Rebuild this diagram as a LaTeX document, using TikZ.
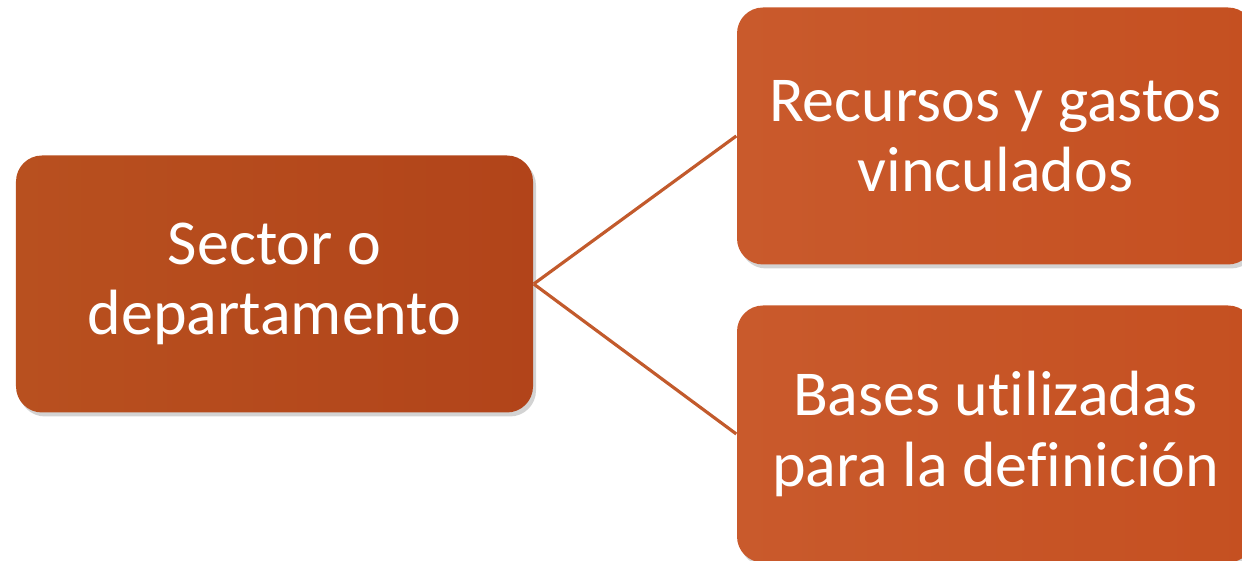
\documentclass[tikz,border=0pt]{standalone}
\usepackage{fontspec}
\setmainfont[Ligatures=NoCommon]{Carlito}
\usetikzlibrary{shadows}

\definecolor{sectorFill}{HTML}{B2441A}
\definecolor{sectorLight}{HTML}{B8501F}
\definecolor{itemFill}{HTML}{C55021}
\definecolor{itemLight}{HTML}{C95A2C}
\definecolor{linkColor}{HTML}{C25A2C}

\tikzset{
  box/.style={rounded corners=0.26cm, minimum width=5.17cm, minimum height=2.57cm,
    inner sep=0pt, align=center, text=white,
    font=\fontsize{18.2}{20}\selectfont,
    drop shadow={shadow xshift=0.03cm, shadow yshift=-0.04cm, opacity=0.35}},
  sectorBox/.style={box, left color=sectorLight, right color=sectorFill},
  itemBox/.style={box, left color=itemLight, right color=itemFill},
  linkLine/.style={draw=linkColor, line width=0.9pt}
}

\begin{document}
\begin{tikzpicture}
    \useasboundingbox (0,0) rectangle (12.42,5.61);

    \node[sectorBox] at (2.745,2.77) (sector) {Sector o\\departamento};
    \node[itemBox] at (9.955,4.25) (recursos) {Recursos y gastos\\vinculados};
    \node[itemBox] at (9.955,1.27) (bases) {Bases utilizadas\\para la definición};

    \draw[linkLine] (sector.east) to (recursos.west);
    \draw[linkLine] (sector.east) to (bases.west);
  \end{tikzpicture}
\end{document}
